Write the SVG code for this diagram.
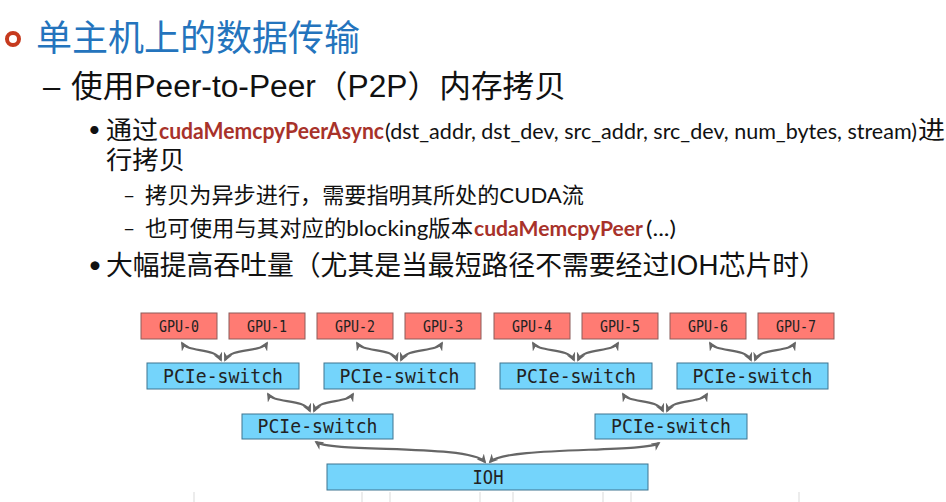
<svg xmlns="http://www.w3.org/2000/svg" width="946" height="502" viewBox="0 0 946 502">
<style>
.cjk{font-family:"Liberation Sans","Noto Sans CJK SC",sans-serif;fill:#111}
.cal{font-family:Lato,"Noto Sans CJK SC",sans-serif;fill:#111}
.fn{font-family:Lato,sans-serif;font-weight:bold;fill:#A8322A}
.gpu rect{fill:#FF7B73;stroke:#8C5C5A;stroke-width:1}
.sw rect{fill:#74D4FB;stroke:#3E7590;stroke-width:1}
.lbl{font-family:"DejaVu Sans Mono",monospace;fill:#222;text-anchor:middle}
.c path{fill:none;stroke:#666;stroke-width:2.2;marker-start:url(#ah);marker-end:url(#ah)}
.grid line{stroke:#d9d9d9;stroke-width:1}
</style>
<defs>
<marker id="ah" viewBox="0 0 10 10" refX="8" refY="5" markerWidth="9" markerHeight="9" markerUnits="userSpaceOnUse" orient="auto-start-reverse">
<path d="M0,0 L10,5 L0,10 L3,5 z" fill="#666"/>
</marker>
</defs>
<rect width="946" height="502" fill="#fff"/>

<circle cx="13" cy="39" r="6" fill="none" stroke="#C63A1E" stroke-width="4"/>
<text x="36" y="51" font-size="36" font-family="Liberation Sans,'Noto Sans CJK SC',sans-serif" fill="#2474BD" textLength="324" lengthAdjust="spacingAndGlyphs">单主机上的数据传输</text>

<text class="cjk" font-size="31" y="97"><tspan x="43">–</tspan><tspan x="71" textLength="495" lengthAdjust="spacingAndGlyphs">使用Peer-to-Peer（P2P）内存拷贝</tspan></text>

<text class="cal" font-size="22" x="88" y="137">•</text>
<text class="cal" font-size="25" x="106" y="139" textLength="52" lengthAdjust="spacingAndGlyphs">通过</text>
<text class="fn" font-size="23" x="159" y="139" textLength="225" lengthAdjust="spacingAndGlyphs">cudaMemcpyPeerAsync</text>
<text class="cal" font-size="21" x="385" y="139" textLength="532" lengthAdjust="spacingAndGlyphs">(dst_addr, dst_dev, src_addr, src_dev, num_bytes, stream)</text>
<text class="cal" font-size="25" x="918" y="139" textLength="27" lengthAdjust="spacingAndGlyphs">进</text>
<text class="cal" font-size="25" x="106" y="169" textLength="79" lengthAdjust="spacingAndGlyphs">行拷贝</text>

<text class="cal" font-size="21" x="123" y="203">–</text>
<text class="cal" font-size="22" x="145" y="203" textLength="439" lengthAdjust="spacingAndGlyphs">拷贝为异步进行，需要指明其所处的CUDA流</text>
<text class="cal" font-size="21" x="123" y="236">–</text>
<text class="cal" font-size="22" x="145" y="236" textLength="328" lengthAdjust="spacingAndGlyphs">也可使用与其对应的blocking版本</text>
<text class="fn" font-size="21" x="474" y="236" textLength="169" lengthAdjust="spacingAndGlyphs">cudaMemcpyPeer</text>
<text class="cal" font-size="21" x="646" y="236" textLength="30" lengthAdjust="spacingAndGlyphs">(...)</text>

<text class="cal" font-size="24" x="88" y="273">•</text>
<text class="cal" font-size="27" x="106" y="275" textLength="720" lengthAdjust="spacingAndGlyphs">大幅提高吞吐量（尤其是当最短路径不需要经过IOH芯片时）</text>

<g id="gpu0" class="gpu"><rect x="141" y="313" width="76" height="26"/><text class="lbl" x="179" y="331.5" font-size="16" textLength="40" lengthAdjust="spacingAndGlyphs">GPU-0</text></g>
<g id="gpu1" class="gpu"><rect x="229" y="313" width="76" height="26"/><text class="lbl" x="267" y="331.5" font-size="16" textLength="40" lengthAdjust="spacingAndGlyphs">GPU-1</text></g>
<g id="gpu2" class="gpu"><rect x="317" y="313" width="76" height="26"/><text class="lbl" x="355" y="331.5" font-size="16" textLength="40" lengthAdjust="spacingAndGlyphs">GPU-2</text></g>
<g id="gpu3" class="gpu"><rect x="405" y="313" width="76" height="26"/><text class="lbl" x="443" y="331.5" font-size="16" textLength="40" lengthAdjust="spacingAndGlyphs">GPU-3</text></g>
<g id="gpu4" class="gpu"><rect x="494" y="313" width="76" height="26"/><text class="lbl" x="532" y="331.5" font-size="16" textLength="40" lengthAdjust="spacingAndGlyphs">GPU-4</text></g>
<g id="gpu5" class="gpu"><rect x="582" y="313" width="76" height="26"/><text class="lbl" x="620" y="331.5" font-size="16" textLength="40" lengthAdjust="spacingAndGlyphs">GPU-5</text></g>
<g id="gpu6" class="gpu"><rect x="670" y="313" width="76" height="26"/><text class="lbl" x="708" y="331.5" font-size="16" textLength="40" lengthAdjust="spacingAndGlyphs">GPU-6</text></g>
<g id="gpu7" class="gpu"><rect x="758" y="313" width="76" height="26"/><text class="lbl" x="796" y="331.5" font-size="16" textLength="40" lengthAdjust="spacingAndGlyphs">GPU-7</text></g>

<g id="sw1" class="sw"><rect x="147" y="363" width="152" height="26"/><text class="lbl" x="223" y="383" font-size="19" textLength="120" lengthAdjust="spacingAndGlyphs">PCIe-switch</text></g>
<g id="sw2" class="sw"><rect x="324" y="363" width="151" height="26"/><text class="lbl" x="399.5" y="383" font-size="19" textLength="120" lengthAdjust="spacingAndGlyphs">PCIe-switch</text></g>
<g id="sw3" class="sw"><rect x="500" y="363" width="152" height="26"/><text class="lbl" x="576" y="383" font-size="19" textLength="120" lengthAdjust="spacingAndGlyphs">PCIe-switch</text></g>
<g id="sw4" class="sw"><rect x="677" y="363" width="151" height="26"/><text class="lbl" x="752.5" y="383" font-size="19" textLength="120" lengthAdjust="spacingAndGlyphs">PCIe-switch</text></g>
<g id="sw5" class="sw"><rect x="242" y="414" width="151" height="25"/><text class="lbl" x="317.5" y="433" font-size="19" textLength="120" lengthAdjust="spacingAndGlyphs">PCIe-switch</text></g>
<g id="sw6" class="sw"><rect x="595" y="414" width="152" height="25"/><text class="lbl" x="671" y="433" font-size="19" textLength="120" lengthAdjust="spacingAndGlyphs">PCIe-switch</text></g>
<g id="ioh" class="sw"><rect x="327" y="464" width="321" height="26"/><text class="lbl" x="488" y="484" font-size="19" textLength="31" lengthAdjust="spacingAndGlyphs">IOH</text></g>

<g id="connectors" class="c">
<path d="M182,343 C188,353 215,347 221,360"/>
<path d="M267,343 C261,353 231,347 225,360"/>
<path d="M357,343 C363,353 392,347 397,360"/>
<path d="M442,343 C436,353 407,347 401,360"/>
<path d="M533,343 C539,353 568,347 574,360"/>
<path d="M618,343 C612,353 584,347 578,360"/>
<path d="M710,343 C716,353 745,347 751,360"/>
<path d="M795,343 C789,353 760,347 755,360"/>
<path d="M268,394 C274,404 304,398 310,411"/>
<path d="M353,394 C347,404 320,398 314,411"/>
<path d="M623,394 C629,404 657,398 663,411"/>
<path d="M707,394 C701,404 673,398 667,411"/>
<path d="M316,442 C332,453 470,444 485,462"/>
<path d="M659,443 C645,453 505,446 490,462"/>
</g>

<g class="grid">
<line x1="194" y1="492" x2="194" y2="502"/>
<line x1="362" y1="492" x2="362" y2="502"/>
<line x1="390" y1="492" x2="390" y2="502"/>
<line x1="480" y1="492" x2="480" y2="502"/>
<line x1="513" y1="492" x2="513" y2="502"/>
<line x1="603" y1="492" x2="603" y2="502"/>
<line x1="631" y1="492" x2="631" y2="502"/>
<line x1="799" y1="492" x2="799" y2="502"/>
</g>
</svg>
